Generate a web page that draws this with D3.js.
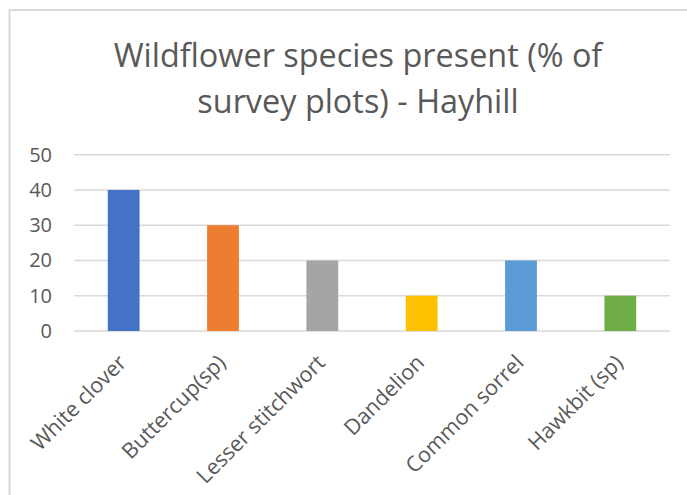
<!DOCTYPE html>
<html><head><meta charset="utf-8">
<script src="https://cdn.jsdelivr.net/npm/d3@7"></script>
<style>
html,body{margin:0;padding:0;background:#fff;}
svg{display:block;}
text{font-family:"Open Sans",Lato,sans-serif;fill:#595959;}
</style></head><body>
<svg id="chart" width="687" height="495"></svg>
<script>
const titleLines = ["Wildflower species present (% of", "survey plots) - Hayhill"];
const categories = ["White clover","Buttercup(sp)","Lesser stitchwort","Dandelion","Common sorrel","Hawkbit (sp)"];
const values = [40, 30, 20, 10, 20, 10];
const colors = ["#4472C4","#ED7D31","#A5A5A5","#FFC000","#5B9BD5","#70AD47"];
const yTicks = [0, 10, 20, 30, 40, 50];

const svg = d3.select("#chart");
const W = 687, H = 495;
const m = {left: 74, right: 17};
const FONT = "'Open Sans',Lato,sans-serif";

svg.append("rect").attr("x", 9.5).attr("y", 10).attr("width", W).attr("height", H)
  .attr("fill", "#fff").attr("stroke", "#d9d9d9").attr("stroke-width", 2);

const x = d3.scaleBand().domain(categories).range([m.left, W - m.right]).paddingInner(0.68).paddingOuter(0.34);
const y = d3.scaleLinear().domain([0, 50]).range([331, 154.7]);

// gridlines
svg.append("g").selectAll("line").data(yTicks).join("line")
  .attr("x1", m.left).attr("x2", W - m.right)
  .attr("y1", d => y(d)).attr("y2", d => y(d))
  .attr("stroke", "#d9d9d9").attr("stroke-width", 1.5);

// y axis labels
const yAxis = d3.axisLeft(y).tickValues(yTicks).tickSize(0).tickPadding(0);
const gy = svg.append("g").attr("transform", "translate(52,0)").call(yAxis);
gy.select(".domain").remove();
gy.selectAll("text").attr("font-size", 20).attr("fill", "#595959").style("font-family", FONT);

// bars
svg.append("g").selectAll("rect").data(categories).join("rect")
  .attr("x", d => x(d)).attr("width", x.bandwidth())
  .attr("y", (d, i) => y(values[i])).attr("height", (d, i) => y(0) - y(values[i]))
  .attr("fill", (d, i) => colors[i]);

// x labels
const xAxis = d3.axisBottom(x).tickSize(0).tickPadding(0);
const gx = svg.append("g").attr("transform", "translate(0,331)").call(xAxis);
gx.select(".domain").remove();
gx.selectAll("text")
  .attr("font-size", 21.5).attr("fill", "#595959").style("font-family", FONT)
  .attr("text-anchor", "end").attr("dy", null).attr("y", null)
  .attr("transform", "translate(4,33) rotate(-45)");

// title
svg.append("g").selectAll("text").data(titleLines).join("text")
  .attr("x", 358).attr("y", (d, i) => 67 + i * 46)
  .attr("text-anchor", "middle").attr("font-size", 32.4).style("font-family", FONT).text(d => d);
</script>
</body></html>
